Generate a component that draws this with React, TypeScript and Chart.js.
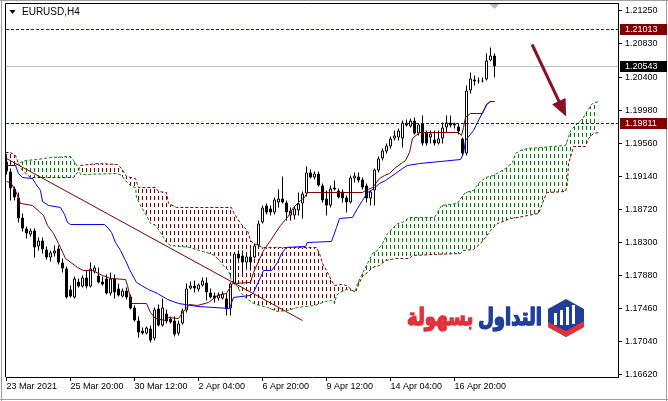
import React, { useEffect, useRef } from 'react';
import { Chart, registerables } from 'chart.js';

Chart.register(...registerables);

const symbolTitle = 'EURUSD,H4';
const logoBlueWord = 'التداول';
const logoRedWord = 'بسهولة';

const xTickBars = [0, 16, 32, 48, 64, 80, 96, 112];
const xTickLabels = ['23 Mar 2021', '25 Mar 20:00', '30 Mar 12:00', '2 Apr 04:00', '6 Apr 20:00', '9 Apr 12:00', '14 Apr 04:00', '16 Apr 20:00'];
const yTickValues = [1.1662, 1.1704, 1.1746, 1.1788, 1.183, 1.1872, 1.1914, 1.1956, 1.1998, 1.204, 1.2083, 1.2125];

const opens = [1.19331,1.19203,1.18987,1.18872,1.18619,1.18479,1.18402,1.18453,1.18250,1.18326,1.18211,1.18110,1.18160,1.18224,1.18045,1.17970,1.17702,1.17601,1.17804,1.17740,1.17855,1.17740,1.17931,1.17880,1.17804,1.17842,1.17651,1.17842,1.17715,1.17613,1.17690,1.17613,1.17473,1.17307,1.17180,1.17142,1.17206,1.17078,1.17460,1.17244,1.17397,1.17333,1.17307,1.17142,1.17269,1.17435,1.17715,1.17753,1.17702,1.17753,1.17791,1.17664,1.17626,1.17588,1.17588,1.17588,1.17460,1.17778,1.18160,1.18135,1.18045,1.18122,1.18110,1.18262,1.18555,1.18771,1.18733,1.18682,1.18810,1.18860,1.18810,1.18644,1.18644,1.18707,1.18797,1.18923,1.19191,1.19127,1.19178,1.19025,1.18860,1.18771,1.18974,1.18962,1.18949,1.18872,1.18810,1.19114,1.19140,1.19102,1.19025,1.18860,1.18962,1.19216,1.19369,1.19458,1.19522,1.19624,1.19637,1.19624,1.19827,1.19776,1.19853,1.19687,1.19814,1.19700,1.19637,1.19611,1.19560,1.19624,1.19764,1.19827,1.19789,1.19776,1.19624,1.19433,1.20235,1.20375,1.20362,1.20362,1.20375,1.20616,1.20680];
const highs = [1.19394,1.19242,1.19012,1.18936,1.18670,1.18504,1.18479,1.18479,1.18364,1.18364,1.18250,1.18199,1.18262,1.18262,1.18097,1.17995,1.17753,1.17868,1.17842,1.17880,1.17944,1.18045,1.18007,1.17982,1.17868,1.17893,1.17919,1.17893,1.17778,1.17715,1.17728,1.17639,1.17498,1.17358,1.17218,1.17231,1.17244,1.17473,1.17511,1.17588,1.17447,1.17358,1.17358,1.17307,1.17460,1.17778,1.17804,1.17816,1.17778,1.17855,1.17855,1.17715,1.17664,1.17664,1.17677,1.17651,1.17791,1.18173,1.18199,1.18199,1.18148,1.18211,1.18288,1.18580,1.18771,1.18797,1.18771,1.18872,1.18974,1.19140,1.18835,1.18746,1.18759,1.18936,1.18949,1.19267,1.19229,1.19203,1.19203,1.19051,1.18962,1.19025,1.19089,1.18987,1.18974,1.18898,1.19153,1.19191,1.19191,1.19127,1.19051,1.18962,1.19242,1.19394,1.19496,1.19560,1.19649,1.19725,1.19751,1.19853,1.19865,1.19878,1.19891,1.19814,1.19916,1.19725,1.19725,1.19725,1.19725,1.19827,1.19916,1.19916,1.19827,1.19814,1.19637,1.20298,1.20464,1.20425,1.20400,1.20400,1.20705,1.20782,1.20705];
const lows = [1.19165,1.18835,1.18835,1.18555,1.18440,1.18351,1.18377,1.18110,1.18199,1.18160,1.18084,1.18058,1.18122,1.18020,1.17919,1.17588,1.17601,1.17588,1.17728,1.17728,1.17715,1.17728,1.17906,1.17778,1.17753,1.17639,1.17626,1.17588,1.17613,1.17601,1.17575,1.17447,1.17295,1.17091,1.17129,1.17129,1.17027,1.17053,1.17231,1.17231,1.17269,1.17269,1.17104,1.17116,1.17256,1.17409,1.17702,1.17664,1.17677,1.17740,1.17562,1.17588,1.17537,1.17562,1.17575,1.17371,1.17371,1.17766,1.18071,1.17906,1.17982,1.17944,1.18097,1.18250,1.18542,1.18657,1.18644,1.18657,1.18746,1.18797,1.18580,1.18580,1.18593,1.18644,1.18606,1.18885,1.19114,1.19102,1.19012,1.18810,1.18644,1.18746,1.18962,1.18860,1.18810,1.18682,1.18797,1.19064,1.19064,1.18974,1.18810,1.18771,1.18771,1.19191,1.19344,1.19433,1.19496,1.19598,1.19598,1.19509,1.19776,1.19764,1.19675,1.19662,1.19535,1.19535,1.19560,1.19535,1.19547,1.19560,1.19700,1.19764,1.19751,1.19675,1.19407,1.19407,1.20196,1.20298,1.20324,1.20336,1.20362,1.20604,1.20400];
const closes = [1.19203,1.18987,1.18872,1.18606,1.18479,1.18415,1.18453,1.18237,1.18326,1.18211,1.18110,1.18173,1.18199,1.18045,1.17970,1.17601,1.17613,1.17842,1.17740,1.17855,1.17740,1.17970,1.17982,1.17791,1.17766,1.17651,1.17842,1.17664,1.17626,1.17690,1.17601,1.17460,1.17307,1.17155,1.17142,1.17218,1.17053,1.17447,1.17244,1.17473,1.17295,1.17282,1.17129,1.17269,1.17435,1.17715,1.17753,1.17715,1.17766,1.17816,1.17664,1.17601,1.17588,1.17639,1.17651,1.17460,1.17778,1.18160,1.18097,1.18045,1.18122,1.18045,1.18262,1.18542,1.18746,1.18682,1.18682,1.18847,1.18860,1.18810,1.18682,1.18707,1.18733,1.18797,1.18923,1.19191,1.19127,1.19178,1.19025,1.18835,1.18771,1.18987,1.18999,1.18872,1.18860,1.18810,1.19127,1.19153,1.19089,1.18999,1.18860,1.18949,1.19229,1.19369,1.19471,1.19535,1.19624,1.19662,1.19725,1.19827,1.19789,1.19853,1.19687,1.19802,1.19560,1.19560,1.19687,1.19560,1.19624,1.19764,1.19827,1.19789,1.19814,1.19713,1.19433,1.20235,1.20387,1.20349,1.20349,1.20349,1.20616,1.20680,1.20543];

const tenkanBars = [0,1,2.25,3.5,6.5,9.25,10.25,11.75,13,14.75,17.75,19.25,21.5,24,26,29.75,30.25,31.25,35,36,37.25,39.75,40.5,43,44.25,45.75,47.75,50.5,52.75,55,56.5,61,61.75,64.25,66,68.5,70.25,71.75,73.5,74.5,75.25,89,89.75,91.5,93.25,94.5,95.75,97,99,99.75,100.75,101.5,103.25,113,113.75,114.25,114.75,116,119,120,121,122];
const tenkanValues = [1.19076,1.19064,1.18962,1.18797,1.18771,1.18644,1.18517,1.18415,1.18288,1.18097,1.17982,1.17944,1.17944,1.17880,1.17842,1.17829,1.17753,1.17524,1.17524,1.17409,1.17333,1.17307,1.17346,1.17333,1.17422,1.17511,1.17498,1.17537,1.17626,1.17651,1.17778,1.17791,1.17919,1.18199,1.18326,1.18517,1.18619,1.18746,1.18835,1.18872,1.18936,1.18936,1.18962,1.18999,1.19114,1.19153,1.19178,1.19242,1.19318,1.19344,1.19445,1.19624,1.19700,1.19700,1.19662,1.19764,1.19891,1.19942,1.19942,1.20056,1.20094,1.20094];

const kijunBars = [-0.25,2.25,3,4,6.5,7.25,8.5,9,10.5,13.5,14.5,15.25,16,24.5,25.5,26.25,27.25,28.5,29.75,30.75,32.5,33.75,35.5,37.75,40.25,43,47.75,55.75,56.75,61,61.75,63.5,64.25,66.25,67.75,68.75,70,74.75,75.25,81.25,82.5,83.25,86.5,87.75,89,90.25,91.5,93.25,94.75,97.25,99,100.25,103.25,113.5,114.25,114.75,116.75,117.75,119,120.25,121,122];
const kijunValues = [1.19280,1.19280,1.19178,1.19127,1.19114,1.19051,1.18962,1.18822,1.18771,1.18746,1.18657,1.18555,1.18529,1.18529,1.18479,1.18428,1.18300,1.18199,1.18071,1.17957,1.17791,1.17753,1.17702,1.17651,1.17575,1.17524,1.17486,1.17460,1.17601,1.17626,1.17664,1.17855,1.17944,1.17944,1.18045,1.18160,1.18237,1.18250,1.18300,1.18313,1.18491,1.18606,1.18619,1.18733,1.18835,1.18936,1.18974,1.19051,1.19089,1.19178,1.19242,1.19280,1.19305,1.19356,1.19433,1.19598,1.19725,1.19827,1.19954,1.20069,1.20094,1.20094];

const spanABars = [-0.25,2.25,3.5,4.75,7.75,11,16,16.75,17.75,18.5,27.75,28.75,29.75,31,32.25,32.5,33.75,35,36,37.25,38.5,39.25,40,41,45.75,48.25,50.75,52,53.25,54.25,55.5,56.25,57.5,58.75,60,61.75,65.25,67.75,70.25,72.75,77,79.75,81.25,82,82.5,83.25,85,86.25,87.25,87.75,89,90.25,91.5,92.75,94,95.25,97.75,99,100.75,107,107.75,108.75,112.75,113.5,114.75,116.75,118,119.75,121.75,123,124.75,126.5,127.25,128.5,130.25,133.5,139.75,140.5,141,142.25,143.5,144.25,145.25,146.5,148];
const spanAValues = [1.19280,1.19280,1.19318,1.19344,1.19356,1.19382,1.19394,1.19344,1.19267,1.19165,1.19178,1.19153,1.19089,1.19025,1.18999,1.18872,1.18746,1.18644,1.18542,1.18517,1.18428,1.18364,1.18300,1.18262,1.18237,1.18199,1.18160,1.18135,1.18071,1.18007,1.17944,1.17816,1.17753,1.17651,1.17588,1.17524,1.17473,1.17422,1.17435,1.17473,1.17498,1.17550,1.17562,1.17524,1.17626,1.17664,1.17702,1.17690,1.17690,1.17778,1.17906,1.18033,1.18160,1.18199,1.18288,1.18415,1.18542,1.18555,1.18619,1.18619,1.18682,1.18771,1.18797,1.18860,1.18936,1.18962,1.19051,1.19127,1.19153,1.19191,1.19242,1.19318,1.19433,1.19471,1.19496,1.19509,1.19535,1.19637,1.19725,1.19789,1.19853,1.19891,1.19980,1.20069,1.20094];

const spanBBars = [-0.25,1,2.25,3,4,6,16.75,17.75,18.5,22.75,27.75,28.75,30,32.25,33,37.25,38,40,40.5,42.5,56.25,56.75,58.5,60.25,61,61.75,64,77.5,78.25,79,80,81.25,82,83.75,85,86.5,87.25,88.25,89,90.25,91.5,93.25,94.75,97.25,100.75,101.5,107.25,113.5,114.25,116.75,118.5,119.75,121,122.75,123.5,126,128,130.25,133,134.75,135.25,139.75,140.25,140.5,141.5,141.75,144.75,145.5,146.75,148];
const spanBValues = [1.19445,1.19445,1.19407,1.19305,1.19216,1.19127,1.19127,1.19191,1.19280,1.19305,1.19293,1.19242,1.19140,1.19114,1.18999,1.18999,1.18949,1.18936,1.18797,1.18746,1.18746,1.18682,1.18542,1.18453,1.18326,1.18288,1.18237,1.18237,1.18160,1.18033,1.17944,1.17816,1.17753,1.17766,1.17753,1.17690,1.17664,1.17791,1.17868,1.17919,1.17982,1.18007,1.18071,1.18097,1.18097,1.18135,1.18148,1.18160,1.18199,1.18211,1.18288,1.18364,1.18453,1.18542,1.18555,1.18606,1.18619,1.18644,1.18670,1.18898,1.18936,1.18949,1.19051,1.19305,1.19471,1.19522,1.19522,1.19624,1.19687,1.19700];

const trendBars = [0, 74];
const trendValues = [1.19369, 1.17307];
const arrowBars = [131.4, 139.9];
const arrowValues = [1.2082, 1.19904];
const levelValues = [1.21013, 1.19811];
const bidValue = 1.20543;

const FONT = '"Liberation Sans", Arial, sans-serif';
const MAROON = '#800000';
const GREEN = '#008000';
const BLUE = '#0000ff';
const ARROW = '#8a1024';

const pts = (xs: number[], ys: number[]) => xs.map((x, i) => ({ x, y: ys[i] }));

function hatch(ctx: CanvasRenderingContext2D, color: string) {
  const c = document.createElement('canvas');
  c.width = 4;
  c.height = 7;
  const g = c.getContext('2d')!;
  g.fillStyle = color;
  g.fillRect(2, 0, 1, 4);
  return ctx.createPattern(c, 'repeat')!;
}

const decorPlugin = {
  id: 'mtDecor',
  beforeDatasetsDraw(chart: any) {
    const { ctx, chartArea: a, scales } = chart;
    const y = Math.floor(scales.y.getPixelForValue(bidValue)) + 0.5;
    ctx.save();
    ctx.strokeStyle = '#c0c0c0';
    ctx.lineWidth = 1;
    ctx.beginPath();
    ctx.moveTo(a.left, y);
    ctx.lineTo(a.right, y);
    ctx.stroke();
    ctx.restore();
  },
  afterDatasetsDraw(chart: any) {
    const { ctx, chartArea: a, scales } = chart;
    const xs = scales.x;
    const ys = scales.y;
    ctx.save();
    ctx.beginPath();
    ctx.rect(a.left, a.top, a.right - a.left, a.bottom - a.top);
    ctx.clip();
    ctx.strokeStyle = MAROON;
    ctx.lineWidth = 1;
    ctx.setLineDash([3, 2]);
    for (const v of levelValues) {
      const y = Math.floor(ys.getPixelForValue(v)) + 0.5;
      ctx.beginPath();
      ctx.moveTo(a.left, y);
      ctx.lineTo(a.right, y);
      ctx.stroke();
    }
    ctx.setLineDash([]);
    const x1 = xs.getPixelForValue(arrowBars[0]);
    const y1 = ys.getPixelForValue(arrowValues[0]);
    const x2 = xs.getPixelForValue(arrowBars[1]);
    const y2 = ys.getPixelForValue(arrowValues[1]);
    const len = Math.hypot(x2 - x1, y2 - y1);
    const ux = (x2 - x1) / len;
    const uy = (y2 - y1) / len;
    const hl = 17;
    const hw = 7.5;
    const bx = x2 - ux * hl;
    const by = y2 - uy * hl;
    ctx.strokeStyle = ARROW;
    ctx.lineWidth = 3;
    ctx.beginPath();
    ctx.moveTo(x1, y1);
    ctx.lineTo(bx + ux * 2, by + uy * 2);
    ctx.stroke();
    ctx.fillStyle = ARROW;
    ctx.beginPath();
    ctx.moveTo(x2, y2);
    ctx.lineTo(bx - uy * hw, by + ux * hw);
    ctx.lineTo(bx + uy * hw, by - ux * hw);
    ctx.closePath();
    ctx.fill();
    ctx.restore();
  },
  afterDraw(chart: any) {
    const { ctx, chartArea: a, scales, width, height } = chart;
    const xs = scales.x;
    const ys = scales.y;
    ctx.save();
    // outer window border
    ctx.strokeStyle = '#a0a0a0';
    ctx.lineWidth = 1;
    ctx.beginPath();
    ctx.moveTo(1.5, 0);
    ctx.lineTo(1.5, height);
    ctx.moveTo(0, 0.5);
    ctx.lineTo(width, 0.5);
    ctx.moveTo(width - 1.5, 0);
    ctx.lineTo(width - 1.5, height);
    ctx.moveTo(0, height - 1.5);
    ctx.lineTo(width, height - 1.5);
    ctx.stroke();
    // chart frame
    ctx.strokeStyle = '#000';
    ctx.beginPath();
    ctx.moveTo(a.left - 0.5, a.bottom);
    ctx.lineTo(a.left - 0.5, a.top + 0.5);
    ctx.lineTo(a.right, a.top + 0.5);
    ctx.stroke();
    // title
    ctx.fillStyle = '#000';
    ctx.beginPath();
    ctx.moveTo(a.left + 3.5, a.top + 7);
    ctx.lineTo(a.left + 9.5, a.top + 7);
    ctx.lineTo(a.left + 6.5, a.top + 11);
    ctx.closePath();
    ctx.fill();
    ctx.font = `10px ${FONT}`;
    ctx.textBaseline = 'middle';
    ctx.textAlign = 'left';
    ctx.fillText(symbolTitle, a.left + 16, a.top + 9.5);
    // shift marker
    const sx = Math.floor(xs.getPixelForValue(opens.length - 1)) + 0.5;
    ctx.fillStyle = '#b8b8b8';
    ctx.beginPath();
    ctx.moveTo(sx - 5, a.top + 1);
    ctx.lineTo(sx + 5, a.top + 1);
    ctx.lineTo(sx, a.top + 6);
    ctx.closePath();
    ctx.fill();
    // price boxes on axis
    const box = (v: number, bg: string) => {
      const y = Math.floor(ys.getPixelForValue(v));
      ctx.fillStyle = bg;
      ctx.fillRect(a.right + 2, y - 5, width - a.right - 3, 11);
      ctx.fillStyle = '#fff';
      ctx.font = `9px ${FONT}`;
      ctx.textBaseline = 'middle';
      ctx.textAlign = 'left';
      ctx.fillText(v.toFixed(5), a.right + 7, y + 0.5);
    };
    levelValues.forEach((v) => box(v, MAROON));
    box(bidValue, '#000');
    // logo
    const blue = '#1f3f9b';
    const red = '#e3313b';
    const hx = 566;
    ctx.fillStyle = blue;
    ctx.beginPath();
    ctx.moveTo(hx, 299);
    ctx.lineTo(hx + 18, 309);
    ctx.lineTo(hx + 18, 327);
    ctx.lineTo(hx, 337);
    ctx.lineTo(hx - 18, 327);
    ctx.lineTo(hx - 18, 309);
    ctx.closePath();
    ctx.fill();
    ctx.fillStyle = red;
    ctx.beginPath();
    ctx.moveTo(hx - 18, 322);
    ctx.lineTo(hx, 331);
    ctx.lineTo(hx + 18, 321);
    ctx.lineTo(hx + 18, 327);
    ctx.lineTo(hx, 337);
    ctx.lineTo(hx - 18, 327);
    ctx.closePath();
    ctx.fill();
    ctx.fillStyle = '#fff';
    ctx.fillRect(hx - 12, 313, 3, 12);
    ctx.fillRect(hx - 6, 310, 3, 15);
    ctx.fillRect(hx, 307, 3, 18);
    ctx.fillRect(hx + 6, 305, 3, 19);
    ctx.font = `bold 20px "DejaVu Sans", sans-serif`;
    const wb = ctx.measureText(logoBlueWord).width;
    const wr = ctx.measureText(logoRedWord).width;
    const gap = 5;
    const size = Math.max(12, Math.min(30, (20 * (135 - gap)) / (wb + wr)));
    ctx.font = `bold ${size}px "DejaVu Sans", sans-serif`;
    ctx.direction = 'rtl';
    ctx.textAlign = 'right';
    ctx.textBaseline = 'alphabetic';
    const wb2 = ctx.measureText(logoBlueWord).width;
    ctx.save();
    ctx.translate(0, 325);
    ctx.scale(1, 1.3);
    ctx.lineWidth = 1.2;
    ctx.lineJoin = 'round';
    ctx.fillStyle = blue;
    ctx.strokeStyle = blue;
    ctx.fillText(logoBlueWord, 542, 0);
    ctx.strokeText(logoBlueWord, 542, 0);
    ctx.fillStyle = red;
    ctx.strokeStyle = red;
    ctx.fillText(logoRedWord, 542 - wb2 - gap, 0);
    ctx.strokeText(logoRedWord, 542 - wb2 - gap, 0);
    ctx.restore();
    ctx.restore();
  },
};

export default function App() {
  const ref = useRef<HTMLCanvasElement>(null);
  useEffect(() => {
    document.body.style.margin = '0';
    const canvas = ref.current!;
    const ctx = canvas.getContext('2d')!;
    const greenHatch = hatch(ctx, GREEN);
    const redHatch = hatch(ctx, MAROON);
    const wickData = opens.map((_, i) => ({ x: i, y: [lows[i], highs[i]] }));
    const bodyData = opens.map((o, i) => ({ x: i, y: [o, closes[i]] }));
    const bodyColors = opens.map((o, i) => (closes[i] >= o ? '#ffffff' : '#000000'));

    const chart = new Chart(ctx, {
      type: 'line',
      data: {
        datasets: [
          {
            type: 'line',
            label: 'Senkou Span A',
            data: pts(spanABars, spanAValues),
            borderColor: GREEN,
            borderWidth: 1,
            borderDash: [3, 2],
            pointRadius: 0,
            tension: 0,
            fill: { target: '+1', above: greenHatch, below: redHatch },
            order: 9,
          },
          {
            type: 'line',
            label: 'Senkou Span B',
            data: pts(spanBBars, spanBValues),
            borderColor: MAROON,
            borderWidth: 1,
            borderDash: [3, 2],
            pointRadius: 0,
            tension: 0,
            fill: false,
            order: 8,
          },
          {
            type: 'bar',
            label: 'wicks',
            data: wickData,
            backgroundColor: '#000',
            borderWidth: 0,
            barThickness: 1,
            grouped: false,
            inflateAmount: 0,
            order: 6,
          },
          {
            type: 'bar',
            label: 'bodies',
            data: bodyData,
            backgroundColor: bodyColors,
            borderColor: '#000',
            borderWidth: 1,
            borderSkipped: false,
            barThickness: 3,
            grouped: false,
            inflateAmount: 0,
            order: 5,
          },
          {
            type: 'line',
            label: 'Tenkan-sen',
            data: pts(tenkanBars, tenkanValues),
            borderColor: MAROON,
            borderWidth: 1,
            pointRadius: 0,
            tension: 0,
            fill: false,
            order: 3,
          },
          {
            type: 'line',
            label: 'Kijun-sen',
            data: pts(kijunBars, kijunValues),
            borderColor: BLUE,
            borderWidth: 1,
            pointRadius: 0,
            tension: 0,
            fill: false,
            order: 2,
          },
          {
            type: 'line',
            label: 'Trendline',
            data: pts(trendBars, trendValues),
            borderColor: MAROON,
            borderWidth: 1,
            pointRadius: 0,
            tension: 0,
            fill: false,
            order: 1,
          },
        ],
      } as any,
      options: {
        responsive: false,
        animation: false,
        devicePixelRatio: 1,
        events: [],
        layout: { padding: { left: 6, top: 3, right: 0, bottom: 0 } },
        plugins: { legend: { display: false }, tooltip: { enabled: false } },
        scales: {
          x: {
            type: 'linear',
            position: 'bottom',
            min: -0.125,
            max: 152.875,
            offset: false,
            grid: { drawOnChartArea: false, drawTicks: true, tickLength: 4, color: '#000', offset: false },
            border: { display: true, color: '#000', width: 1 },
            ticks: {
              autoSkip: false,
              maxRotation: 0,
              minRotation: 0,
              align: 'start',
              padding: 0,
              color: '#000',
              font: { family: FONT, size: 9 },
              callback: (_v: any, i: number) => xTickLabels[i],
            },
            afterBuildTicks: (s: any) => {
              s.ticks = xTickBars.map((v) => ({ value: v }));
            },
            afterFit: (s: any) => {
              s.height = 24;
              s.paddingLeft = 0;
              s.paddingRight = 0;
              s.paddingTop = 0;
              s.paddingBottom = 0;
            },
          },
          y: {
            type: 'linear',
            position: 'right',
            min: 1.165882,
            max: 1.213482,
            grid: { drawOnChartArea: false, drawTicks: true, tickLength: 4, color: '#000' },
            border: { display: true, color: '#000', width: 1 },
            ticks: {
              autoSkip: false,
              padding: 3,
              color: '#000',
              font: { family: FONT, size: 9 },
              callback: (v: any) => Number(v).toFixed(5),
            },
            afterBuildTicks: (s: any) => {
              s.ticks = yTickValues.map((v) => ({ value: v }));
            },
            afterFit: (s: any) => {
              s.width = 50;
              s.paddingTop = 0;
              s.paddingBottom = 0;
              s.paddingLeft = 0;
              s.paddingRight = 0;
            },
          },
        },
      } as any,
      plugins: [decorPlugin as any],
    });
    return () => chart.destroy();
  }, []);
  return (
    <div style={{ width: 668, height: 401, background: '#fff' }}>
      <canvas ref={ref} width={668} height={401} style={{ display: 'block' }} />
    </div>
  );
}
